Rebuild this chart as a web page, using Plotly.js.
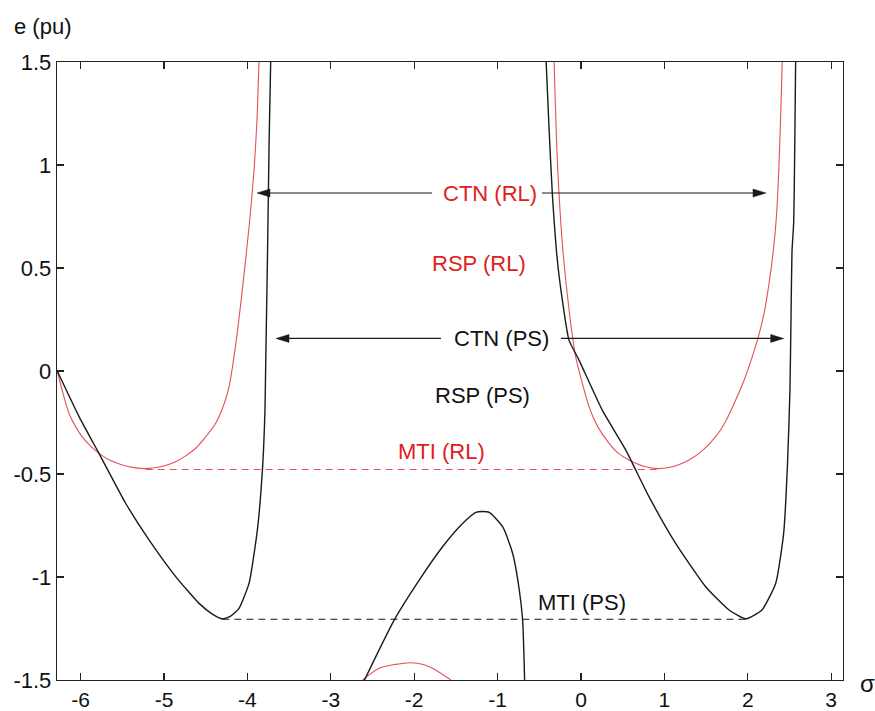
<!DOCTYPE html>
<html>
<head>
<meta charset="utf-8">
<script src="https://cdn.plot.ly/plotly-3.0.1.min.js"></script>
<style>
  html, body { margin: 0; padding: 0; background: #fff; }
  #chart { width: 875px; height: 711px; }
</style>
</head>
<body>
<div id="chart"></div>
<script>
// e(σ) characteristics, PS (black) and RL (red) branches
const psLeftX  = [-6.28, -6.02, -5.78, -5.46, -5.18, -4.86, -4.58, -4.42, -4.30, -4.20, -4.10, -3.98, -3.88, -3.82, -3.79, -3.78, -3.76, -3.74, -3.72];
const psLeftY  = [ 0.00, -0.22, -0.40, -0.642, -0.82, -0.998, -1.128, -1.18, -1.203, -1.19, -1.152, -1.03, -0.77, -0.48, -0.20, 0.05, 0.54, 1.107, 1.52];

const psMidX   = [-2.62, -2.24, -1.94, -1.66, -1.42, -1.26, -1.18, -1.10, -0.94, -0.82, -0.74, -0.70, -0.675];
const psMidY   = [-1.52, -1.209, -1.015, -0.853, -0.74, -0.686, -0.682, -0.686, -0.756, -0.885, -1.063, -1.209, -1.52];

const psRightX = [-0.42, -0.384, -0.344, -0.284, -0.224, -0.144, -0.024, 0.255, 0.536, 0.815, 1.135, 1.495, 1.775, 1.975, 2.17, 2.335, 2.43, 2.475, 2.505, 2.518, 2.53, 2.55, 2.574];
const psRightY = [ 1.52, 1.186, 0.863, 0.539, 0.345, 0.15, 0.053, -0.19, -0.383, -0.61, -0.837, -1.047, -1.16, -1.203, -1.16, -1.03, -0.788, -0.464, -0.10, 0.25, 0.58, 0.72, 1.52];

const rlLeftX  = [-6.28, -6.21, -6.14, -6.06, -5.98, -5.88, -5.78, -5.64, -5.50, -5.36, -5.22, -5.04, -4.86, -4.74, -4.62, -4.50, -4.38, -4.28, -4.22, -4.15, -4.065, -3.98, -3.92, -3.885, -3.86];
const rlLeftY  = [ 0.00, -0.11, -0.205, -0.27, -0.32, -0.365, -0.40, -0.435, -0.456, -0.469, -0.474, -0.465, -0.44, -0.412, -0.375, -0.32, -0.254, -0.16, -0.076, 0.10, 0.379, 0.70, 0.976, 1.22, 1.52];

const rlMidX   = [-2.62, -2.42, -2.22, -2.04, -1.88, -1.78, -1.56];
const rlMidY   = [-1.50, -1.443, -1.424, -1.416, -1.426, -1.443, -1.50];

const rlRightX = [-0.324, -0.284, -0.224, -0.144, -0.064, 0.096, 0.20, 0.336, 0.45, 0.576, 0.75, 0.935, 1.12, 1.295, 1.46, 1.615, 1.74, 1.855, 1.96, 2.054, 2.13, 2.20, 2.26, 2.31, 2.345, 2.374, 2.395, 2.414];
const rlRightY = [ 1.52, 1.024, 0.62, 0.30, 0.07, -0.173, -0.27, -0.351, -0.40, -0.432, -0.462, -0.474, -0.462, -0.432, -0.385, -0.319, -0.24, -0.141, -0.04, 0.07, 0.17, 0.29, 0.44, 0.60, 0.76, 1.00, 1.25, 1.52];

// minimum-level reference lines (MTI)
const mtiRlX = [-5.22, 0.95];
const mtiRlY = [-0.478, -0.478];
const mtiPsX = [-4.30, 1.97];
const mtiPsY = [-1.205, -1.205];

// CTN arrows: level, tail and tip positions
const arrowY    = [0.864, 0.864, 0.158, 0.158];
const arrowTail = [-1.787, -0.468, -1.679, -0.240];
const arrowTip  = [-3.885, 2.218, -3.657, 2.43];

// region labels
const labelText  = ['CTN (RL)', 'RSP (RL)', 'CTN (PS)', 'RSP (PS)', 'MTI (RL)', 'MTI (PS)'];
const labelX     = [-1.091, -1.223, -0.959, -1.187, -1.667, 0.012];
const labelY     = [0.864, 0.524, 0.160, -0.117, -0.393, -1.126];
const labelColor = ['#e0201c', '#e0201c', '#111111', '#111111', '#e0201c', '#111111'];

// axis ticks
const xTickVals = [-6, -5, -4, -3, -2, -1, 0, 1, 2, 3];
const xTickText = ['-6', '-5', '-4', '-3', '-2', '-1', '0', '1', '2', '3'];
const yTickVals = [-1.5, -1, -0.5, 0, 0.5, 1, 1.5];
const yTickText = ['-1.5', '-1', '-0.5', '0', '0.5', '1', '1.5'];

const xRange = [-2 * Math.PI, Math.PI];
const yRange = [-1.5, 1.5];
const W = 875, H = 711;
const M = { l: 57, r: 32, t: 62, b: 31 };
const plotW = W - M.l - M.r, plotH = H - M.t - M.b;

const FONT = 'Liberation Sans, Arial, sans-serif';
const BLACK = '#1a1a1a';
const RED_LINE = '#e5505a';

function branch(x, y, color, width, smooth) {
  return { x: x, y: y, type: 'scatter', mode: 'lines', hoverinfo: 'skip',
           line: { color: color, width: width, shape: 'spline', smoothing: smooth } };
}

const traces = [
  branch(rlLeftX, rlLeftY, RED_LINE, 1.1, 0.6),
  branch(rlMidX, rlMidY, RED_LINE, 1.1, 0.8),
  branch(rlRightX, rlRightY, RED_LINE, 1.1, 0.6),
  branch(psLeftX, psLeftY, BLACK, 1.4, 0.5),
  branch(psMidX, psMidY, BLACK, 1.4, 0.6),
  branch(psRightX, psRightY, BLACK, 1.4, 0.5),
  { x: mtiRlX, y: mtiRlY, type: 'scatter', mode: 'lines', hoverinfo: 'skip',
    line: { color: RED_LINE, width: 1.1, dash: '7px,5px' } },
  { x: mtiPsX, y: mtiPsY, type: 'scatter', mode: 'lines', hoverinfo: 'skip',
    line: { color: BLACK, width: 1.2, dash: '7px,5px' } }
];

// arrow shafts and filled heads, head size given in pixels
const pxX = plotW / (xRange[1] - xRange[0]);
const pxY = plotH / (yRange[1] - yRange[0]);
const headLen = 13 / pxX, headHalf = 4 / pxY;
const shapes = [];
for (let i = 0; i < arrowY.length; i++) {
  const dir = Math.sign(arrowTip[i] - arrowTail[i]);
  const base = arrowTip[i] - dir * headLen;
  shapes.push({ type: 'line', xref: 'x', yref: 'y', x0: arrowTail[i], x1: base, y0: arrowY[i], y1: arrowY[i],
                line: { color: BLACK, width: 1.2 } });
  shapes.push({ type: 'path', xref: 'x', yref: 'y',
                path: 'M' + arrowTip[i] + ',' + arrowY[i] + ' L' + base + ',' + (arrowY[i] + headHalf) +
                      ' L' + base + ',' + (arrowY[i] - headHalf) + ' Z',
                fillcolor: BLACK, line: { color: BLACK, width: 0.5 } });
}

const annotations = labelText.map((t, i) => ({
  text: t, x: labelX[i], y: labelY[i], xref: 'x', yref: 'y', showarrow: false,
  xanchor: 'center', yanchor: 'middle', font: { family: FONT, size: 22, color: labelColor[i] }
}));
annotations.push({ text: 'e (pu)', xref: 'paper', yref: 'paper', x: (12 - M.l) / plotW, y: (H - M.b - 27) / plotH,
  xanchor: 'left', yanchor: 'middle', showarrow: false, font: { family: FONT, size: 22, color: '#111' } });
annotations.push({ text: 'σ', xref: 'paper', yref: 'paper', x: (867 - M.l) / plotW, y: (H - M.b - 683) / plotH,
  xanchor: 'center', yanchor: 'middle', showarrow: false, font: { family: FONT, size: 24, color: '#111' } });

const axisCommon = {
  showgrid: false, zeroline: false, showline: true, linecolor: '#222', linewidth: 1.3, mirror: 'ticks',
  ticks: 'inside', ticklen: 7, tickwidth: 1.2, tickcolor: '#222',
  tickfont: { family: FONT, size: 22, color: '#111' }, fixedrange: true
};

const layout = {
  width: W, height: H, margin: M, showlegend: false,
  paper_bgcolor: '#fff', plot_bgcolor: '#fff',
  xaxis: Object.assign({}, axisCommon, { range: xRange, tickmode: 'array', tickvals: xTickVals, ticktext: xTickText,
                                         tickfont: { family: FONT, size: 21, color: '#111' } }),
  yaxis: Object.assign({}, axisCommon, { range: yRange, tickmode: 'array', tickvals: yTickVals, ticktext: yTickText }),
  shapes: shapes, annotations: annotations
};

Plotly.newPlot('chart', traces, layout, { staticPlot: true, displayModeBar: false });
</script>
</body>
</html>
